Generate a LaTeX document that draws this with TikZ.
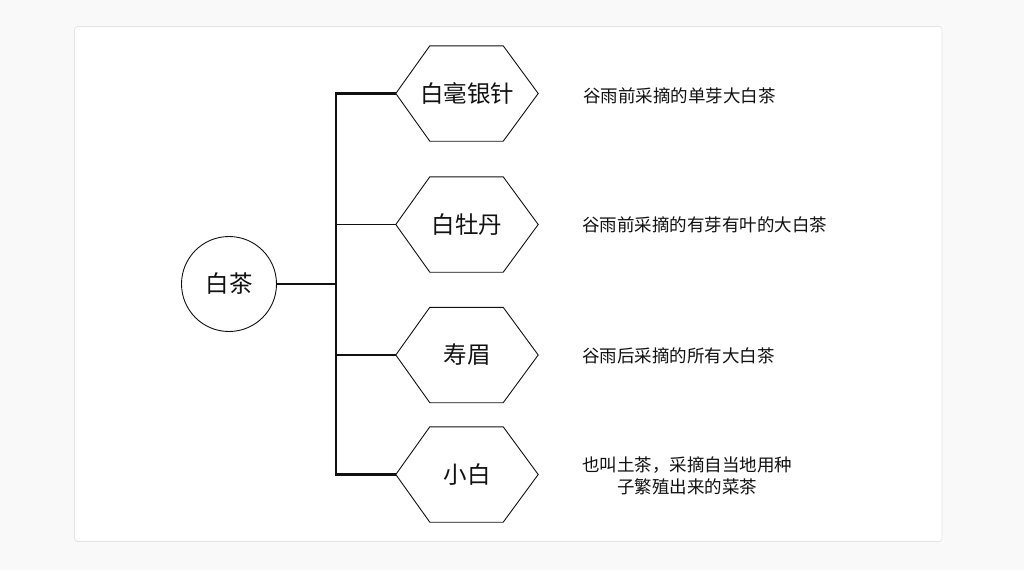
\documentclass[tikz,border=0pt]{standalone}
\usepackage{fontspec}
\setmainfont{Noto Sans CJK SC}
\definecolor{pagebg}{HTML}{F9F9F9}
\definecolor{cardline}{HTML}{E4E4E4}
\definecolor{ink}{HTML}{111111}
\begin{document}
\begin{tikzpicture}[x=1pt,y=-1pt,
  hexbox/.style={minimum width=142pt, minimum height=95pt, inner sep=0pt, font=\fontsize{23.5}{28}\selectfont, text=ink},
  hexline/.style={draw=ink, line width=0.9pt, line join=miter},
  rootnode/.style={circle, draw=ink, line width=0.9pt, minimum size=95pt, inner sep=0pt, font=\fontsize{23.5}{28}\selectfont, text=ink},
  desc/.style={anchor=west, inner sep=0pt, font=\fontsize{17.5}{22}\selectfont, text=ink},
  stemline/.style={draw=ink, line width=2.2pt},
  branchline/.style={draw=ink, line width=1.2pt}]
\useasboundingbox[fill=pagebg] (0,0) rectangle (1024,570);
\draw[cardline, fill=white, line width=0.8pt, rounded corners=3pt] (74.5,26.5) rectangle (942,541.5);
\node[rootnode] (root) at (229,284) {白茶};
\node[hexbox] (h1) at (467,93.5) {白毫银针};
\node[hexbox] (h2) at (467,224.5) {白牡丹};
\node[hexbox] (h3) at (467,355) {寿眉};
\node[hexbox] (h4) at (467,474.5) {小白};
\foreach \n in {h1,h2,h3,h4}
  \draw[hexline] (\n.west) -- ([xshift=34pt]\n.north west) -- ([xshift=-35pt]\n.north east) -- (\n.east) -- ([xshift=-35pt]\n.south east) -- ([xshift=34pt]\n.south west) -- cycle;
\coordinate (j) at (336,284);
\draw[stemline] (root.east) -- (j);
\draw[stemline] (j) |- (h1.west);
\draw[stemline] (j) |- (h4.west);
\draw[branchline] (j |- h2.west) -- (h2.west);
\draw[branchline] (j |- h3.west) -- (h3.west);
\node[desc] (d1) at (583,96) {谷雨前采摘的单芽大白茶};
\node[desc] (d2) at (582,225) {谷雨前采摘的有芽有叶的大白茶};
\node[desc] (d3) at (582,356) {谷雨后采摘的所有大白茶};
\node[desc, align=center] (d4) at (582,476) {也叫土茶，采摘自当地用种\\子繁殖出来的菜茶};
\end{tikzpicture}
\end{document}
